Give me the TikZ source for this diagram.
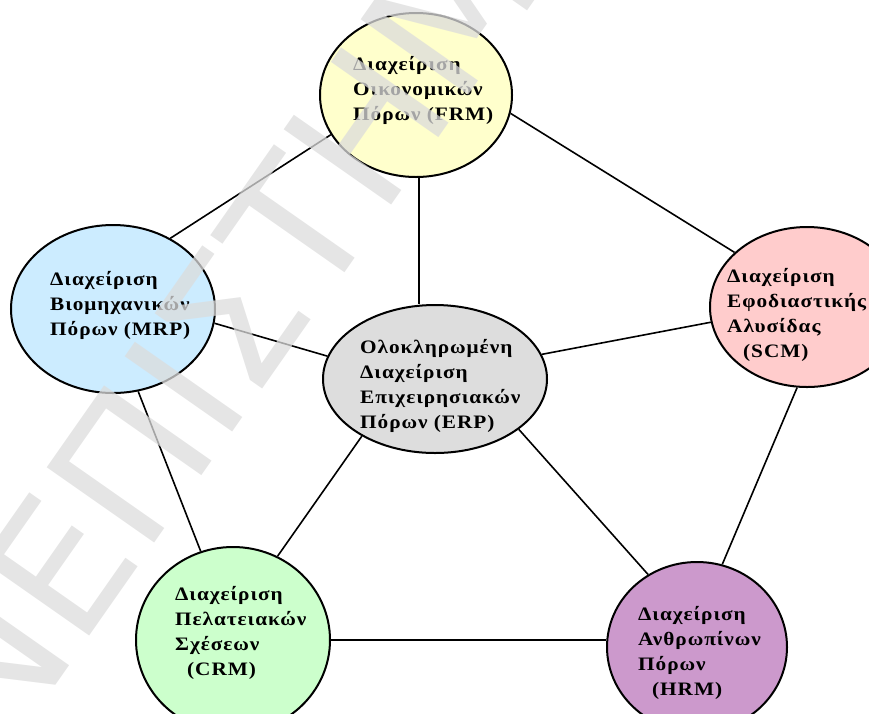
\documentclass[tikz,border=0pt]{standalone}
\usepackage{fontspec}
\setmainfont{Liberation Serif}
\newfontfamily\lblfont[FakeStretch=1.12, LetterSpace=5]{Liberation Serif}
\newfontfamily\wmfont{DejaVu Sans}
\usetikzlibrary{shapes.geometric}
\definecolor{frmfill}{HTML}{FFFFCC}
\definecolor{mrpfill}{HTML}{CCECFF}
\definecolor{scmfill}{HTML}{FFCCCC}
\definecolor{erpfill}{HTML}{DDDDDD}
\definecolor{crmfill}{HTML}{CCFFCC}
\definecolor{hrmfill}{HTML}{CC99CC}
\definecolor{wmgray}{HTML}{DCDCDC}
\begin{document}
\begin{tikzpicture}[x=1pt,y=-1pt,
  unit/.style={ellipse, draw=black, line width=2pt, inner sep=0pt},
  link/.style={draw=black, line width=1.6pt},
  lbl/.style={font=\lblfont\bfseries\fontsize{19}{24.8}\selectfont, align=left,
              anchor=base west, inner sep=0pt, text=black},
  wmark/.style={font=\wmfont\fontsize{180}{180}\selectfont,
                text=wmgray, text opacity=0.75, inner sep=0pt, anchor=base west}]
\useasboundingbox (0,0) rectangle (869,713);

% module ellipses
\node[unit, fill=frmfill, minimum width=192pt, minimum height=164pt] (frm) at (416,95) {};
\node[unit, fill=mrpfill, minimum width=204pt, minimum height=168pt] (mrp) at (113,309) {};
\node[unit, fill=scmfill, minimum width=194pt, minimum height=160pt] (scm) at (807,307) {};
\node[unit, fill=erpfill, minimum width=224pt, minimum height=148pt] (erp) at (435,379) {};
\node[unit, fill=crmfill, minimum width=194pt, minimum height=186pt] (crm) at (233,640) {};
\node[unit, fill=hrmfill, minimum width=180pt, minimum height=170pt] (hrm) at (697,647) {};

% connections
\draw[link] (frm.205) -- (mrp.51);
\draw[link] (frm.349) -- (scm.143);
\draw[link] (frm.272) -- (frm.272 |- erp.north);
\draw[link] (mrp.352) -- (erp.168);
\draw[link] (erp.13) -- (scm.189);
\draw[link] (mrp.287) -- (crm.110);
\draw[link] (erp.218) -- (crm.62);
\draw[link] (erp.329) -- (hrm.124);
\draw[link] (scm.263) -- (hrm.73);
\draw[link] (crm.0) -- (crm.0 -| hrm.west);

% labels (anchored at the baseline of their last line)
\node[lbl] (frm-t) at (353,120) {Διαχείριση\\Οικονομικών\\Πόρων (FRM)};
\node[lbl] (mrp-t) at (50,335) {Διαχείριση\\Βιομηχανικών\\Πόρων (MRP)};
\node[lbl] (scm-t) at (727,357) {Διαχείριση\\Εφοδιαστικής\\Αλυσίδας\\\hspace*{16pt}(SCM)};
\node[lbl] (erp-t) at (360,428) {Ολοκληρωμένη\\Διαχείριση\\Επιχειρησιακών\\Πόρων (ERP)};
\node[lbl] (crm-t) at (175,675) {Διαχείριση\\Πελατειακών\\Σχέσεων\\\hspace*{12pt}(CRM)};
\node[lbl] (hrm-t) at (638,695) {Διαχείριση\\Ανθρωπίνων\\Πόρων\\\hspace*{14pt}(HRM)};

% faint diagonal watermark over the whole sheet
\begin{scope}
  \clip (0,0) rectangle (869,713);
  \node[wmark, rotate=55] (wm) at (-146,973) {ΠΑΝΕΠΙΣΤΗΜΙΟ};
\end{scope}
\end{tikzpicture}
\end{document}
